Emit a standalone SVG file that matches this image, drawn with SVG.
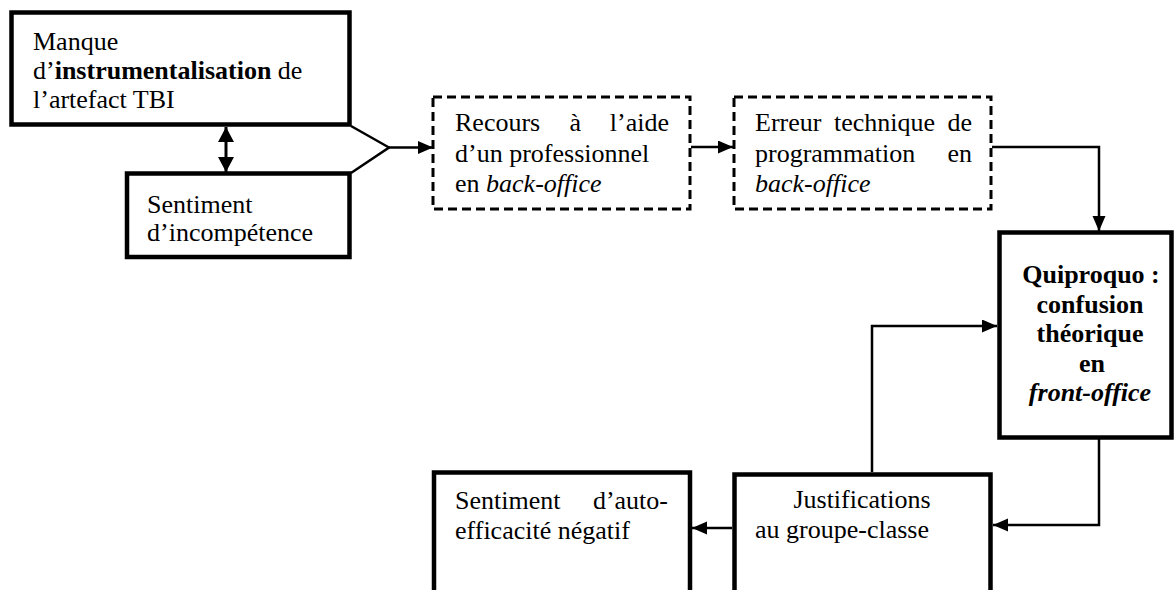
<svg xmlns="http://www.w3.org/2000/svg" width="1174" height="590" viewBox="0 0 1174 590">
<style>
.box{fill:#fff;stroke:#000;stroke-width:4.5}
.dash{fill:#fff;stroke:#000;stroke-width:3;stroke-dasharray:9 5}
.t{font-family:"Liberation Serif","Times New Roman",serif;font-size:26px;fill:#000}
.b{font-weight:bold}
.i{font-style:italic}
.c{fill:none;stroke:#000;stroke-width:2.5}
</style>
<defs>
<marker id="ah" markerUnits="userSpaceOnUse" markerWidth="16" markerHeight="14" refX="15" refY="6.5" orient="auto-start-reverse">
<path d="M0,0 L15,6.5 L0,13 z" fill="#000"/>
</marker>
<marker id="ah2" markerUnits="userSpaceOnUse" markerWidth="16" markerHeight="17" refX="15" refY="8" orient="auto-start-reverse">
<path d="M0,0 L15,8 L0,16 z" fill="#000"/>
</marker>
</defs>
<rect width="1174" height="590" fill="#fff"/>
<g id="connectors">
<path class="c" d="M351,126 L389,147.5 L351,173"/>
<path class="c" d="M389,147.5 L433,147.5" marker-end="url(#ah)"/>
<path class="c" d="M226,127 L226,172" style="stroke-width:3" marker-start="url(#ah2)" marker-end="url(#ah2)"/>
<path class="c" d="M691,147 L733,147" marker-end="url(#ah)"/>
<path class="c" d="M992,147 L1099,147 L1099,231" marker-end="url(#ah)"/>
<path class="c" d="M1099,439 L1099,525 L993,525" marker-end="url(#ah)"/>
<path class="c" d="M872,472 L872,326 L997,326" marker-end="url(#ah)"/>
<path class="c" d="M732,528 L692,528" marker-end="url(#ah)"/>
</g>
<g id="manque">
<rect class="box" x="11.5" y="12.5" width="338" height="112"/>
<text class="t" x="33" y="50">Manque</text>
<text class="t" x="33" y="79">d’<tspan class="b">instrumentalisation</tspan> de</text>
<text class="t" x="33" y="108">l’artefact TBI</text>
</g>
<g id="incompetence">
<rect class="box" x="127" y="173.5" width="222.5" height="83.5"/>
<text class="t" x="147" y="213">Sentiment</text>
<text class="t" x="147" y="241">d’incompétence</text>
</g>
<g id="recours">
<rect class="dash" x="433" y="97" width="257" height="112"/>
<text class="t" x="455" y="131">Recours</text>
<text class="t" x="569.5" y="131">à</text>
<text class="t" x="669" y="131" text-anchor="end">l’aide</text>
<text class="t" x="455" y="162">d’un professionnel</text>
<text class="t" x="455" y="192">en <tspan class="i">back-office</tspan></text>
</g>
<g id="erreur">
<rect class="dash" x="734" y="97" width="257" height="112"/>
<text class="t" x="755" y="131">Erreur</text>
<text class="t" x="834" y="131">technique</text>
<text class="t" x="972" y="131" text-anchor="end">de</text>
<text class="t" x="755" y="162">programmation</text>
<text class="t" x="972" y="162" text-anchor="end">en</text>
<text class="t i" x="755" y="192">back-office</text>
</g>
<g id="quiproquo">
<rect class="box" x="999.5" y="232.5" width="172" height="205"/>
<text class="t b" x="1091" y="283" text-anchor="middle">Quiproquo :</text>
<text class="t b" x="1090" y="312.5" text-anchor="middle">confusion</text>
<text class="t b" x="1090" y="342" text-anchor="middle">théorique</text>
<text class="t b" x="1092" y="371.5" text-anchor="middle">en</text>
<text class="t b i" x="1090" y="401" text-anchor="middle">front-office</text>
</g>
<g id="justifications">
<rect class="box" x="734.5" y="474.5" width="256" height="140"/>
<text class="t" x="862" y="508" text-anchor="middle">Justifications</text>
<text class="t" x="755" y="538">au groupe-classe</text>
</g>
<g id="autoefficacite">
<rect class="box" x="434" y="472.5" width="256" height="140"/>
<text class="t" x="455" y="509">Sentiment</text>
<text class="t" x="668" y="509" text-anchor="end">d’auto-</text>
<text class="t" x="455" y="539">efficacité négatif</text>
</g>
</svg>
